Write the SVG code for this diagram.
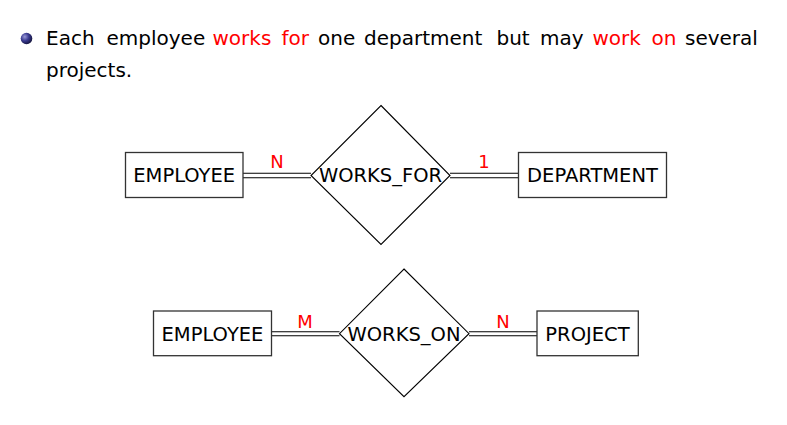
<svg xmlns="http://www.w3.org/2000/svg" width="787" height="425" viewBox="0 0 787 425">
<defs>
<radialGradient id="ball" cx="0.35" cy="0.35" r="0.7">
<stop offset="0" stop-color="#9a9ad8"/>
<stop offset="0.5" stop-color="#3a3a90"/>
<stop offset="1" stop-color="#14143c"/>
</radialGradient>
</defs>
<style>
.t{font-family:"DejaVu Sans",sans-serif;fill:#000}
.bt{font-size:20px}
.red{fill:#ff0000}
.lbl{font-family:"DejaVu Sans",sans-serif;font-size:18px;fill:#ff0000;text-anchor:middle}
.nt{font-family:"DejaVu Sans",sans-serif;font-size:19.5px;fill:#000;text-anchor:middle}
.box{fill:#fff;stroke:#333;stroke-width:1.3}
.dia{fill:#fff;stroke:#000;stroke-width:1.1}
.ln{stroke:#000;stroke-width:1.1;fill:none}
</style>
<rect width="787" height="425" fill="#fff"/>
<g id="bullet">
<circle cx="26.5" cy="38.5" r="5.8" fill="url(#ball)"/>
<text class="t bt" y="45"><tspan x="46">Each</tspan><tspan x="106.5">employee</tspan><tspan x="212.5" class="red">works</tspan><tspan x="281.5" class="red">for</tspan><tspan x="318">one</tspan><tspan x="364">department</tspan><tspan x="496.5">but</tspan><tspan x="540">may</tspan><tspan x="592.5" class="red">work</tspan><tspan x="651.5" class="red">on</tspan><tspan x="685">several</tspan></text>
<text class="t bt" x="46" y="77">projects.</text>
</g>
<g id="connectors">
<line class="ln" x1="243" y1="173.3" x2="311" y2="173.3"/>
<line class="ln" x1="243" y1="177.7" x2="311" y2="177.7"/>
<line class="ln" x1="450" y1="173.3" x2="518" y2="173.3"/>
<line class="ln" x1="450" y1="177.7" x2="518" y2="177.7"/>
<line class="ln" x1="271.5" y1="331.7" x2="339.5" y2="331.7"/>
<line class="ln" x1="271.5" y1="335.7" x2="339.5" y2="335.7"/>
<line class="ln" x1="469" y1="331.7" x2="537" y2="331.7"/>
<line class="ln" x1="469" y1="335.7" x2="537" y2="335.7"/>
<text class="lbl" x="277" y="168">N</text>
<text class="lbl" x="484" y="168">1</text>
<text class="lbl" x="305" y="327.5">M</text>
<text class="lbl" x="503" y="327.5">N</text>
</g>
<g id="employee1">
<rect class="box" x="125.5" y="152.5" width="117.5" height="45"/>
<text class="nt" x="184.2" y="182.3">EMPLOYEE</text>
</g>
<g id="works_for">
<polygon class="dia" points="381,105.5 450,175.5 381,244.5 311,175.5"/>
<text class="nt" x="380.5" y="182.3">WORKS_FOR</text>
</g>
<g id="department">
<rect class="box" x="518.5" y="152.5" width="148" height="45"/>
<text class="nt" x="592.5" y="182.3">DEPARTMENT</text>
</g>
<g id="employee2">
<rect class="box" x="153.5" y="311" width="118" height="44.7"/>
<text class="nt" x="212.5" y="340.5">EMPLOYEE</text>
</g>
<g id="works_on">
<polygon class="dia" points="404,269 469,333.7 404,396.7 339.5,333.7"/>
<text class="nt" x="404" y="340.5">WORKS_ON</text>
</g>
<g id="project">
<rect class="box" x="537" y="311" width="101.3" height="44.7"/>
<text class="nt" x="587.5" y="340.5">PROJECT</text>
</g>
</svg>
